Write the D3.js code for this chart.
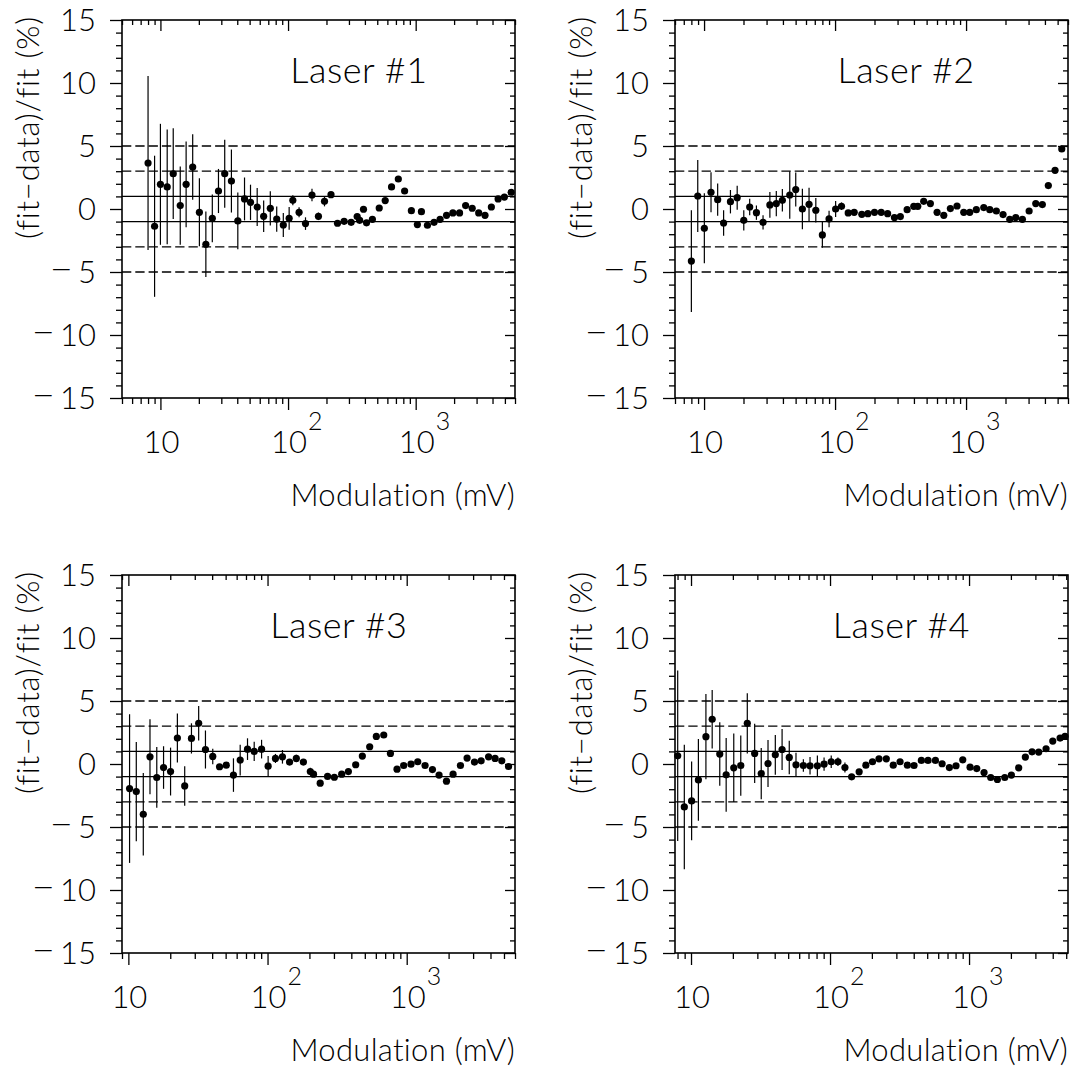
<!DOCTYPE html>
<html><head><meta charset="utf-8">
<script src="https://cdn.jsdelivr.net/npm/d3@7"></script>
<style>
body{margin:0;background:#fff}
text{font-family:Lato,"Open Sans","DejaVu Sans",sans-serif;font-weight:300;fill:#000}
</style></head>
<body><svg id="c" width="1074" height="1069"></svg>
<script>
// ---- data (mV, residual %, error %) ----
const p1X = [8.0, 9.0, 10.0, 11.3, 12.6, 14.3, 15.9, 17.9, 20.2, 22.7, 25.5, 28.5, 31.9, 36.0, 40.4, 45.6, 50.8, 57.3, 64.4, 72.6, 81.5, 91.8, 102, 109, 122, 137, 154,
  173, 193, 217, 244, 275, 312, 348, 364, 390, 412, 458, 518, 577, 647, 731, 819, 925, 1031, 1109, 1236, 1393, 1553, 1745, 1956, 2207, 2462, 2773, 3117, 3493, 3917, 4425, 4955, 5600];
const p1Y = [3.65, -1.37, 1.96, 1.75, 2.8, 0.27, 1.96, 3.33, -0.26, -2.8, -0.74, 1.43, 2.8, 2.22, -0.95, 0.8, 0.53, 0.16, -0.58, 0.05, -0.8, -1.27, -0.74, 0.69, -0.26, -1.16, 1.11,
  -0.58, 0.61, 1.14, -1.13, -0.98, -1.06, -0.6, -0.9, -0.02, -1.1, -0.82, 0.08, 0.67, 1.75, 2.38, 1.43, -0.13, -1.24, -0.21, -1.29, -1.06, -0.82, -0.5, -0.31, -0.31, 0.27, 0.06, -0.31, -0.5, 0.16, 0.8, 0.95, 1.33];
const p1E = [6.9, 5.6, 4.8, 4.55, 3.6, 3.1, 3.4, 2.6, 2.7, 2.6, 1.9, 1.75, 2.7, 2.5, 2.25, 1.7, 1.4, 1.5, 1.25, 1.35, 1.0, 0.95, 0.9, 0.4, 0.4, 0.5, 0.5,
  0.3, 0.4, 0.2, 0.15, 0.25, 0.15, 0.15, 0.15, 0.15, 0.15, 0.15, 0.15, 0.15, 0.15, 0.15, 0.15, 0.15, 0.15, 0.15, 0.15, 0.15, 0.15, 0.15, 0.15, 0.15, 0.15, 0.15, 0.15, 0.15, 0.15, 0.15, 0.15, 0.15];

const p2X = [8.0, 8.95, 10.05, 11.3, 12.7, 14.1, 15.9, 17.9, 20.1, 22.3, 25.1, 28.2, 31.8, 35.6, 39.6, 45.1, 50.1, 56.3, 63.3, 71.3, 80.0, 90.0, 101, 112,
  126, 140, 160, 178, 200, 225, 252, 284, 315, 355, 399, 428, 475, 534, 601, 676, 759, 853, 960, 1067, 1198, 1365, 1517, 1703, 1916, 2156, 2395, 2692, 3029, 3404, 3822, 4246, 4779, 5378];
const p2Y = [-4.13, 1.03, -1.53, 1.33, 0.74, -1.11, 0.58, 0.9, -0.9, 0.16, -0.29, -1.06, 0.32, 0.43, 0.69, 1.11, 1.54, 0.0, 0.37, -0.1, -2.06, -0.79, 0.0, 0.22,
  -0.31, -0.26, -0.42, -0.37, -0.26, -0.26, -0.37, -0.68, -0.6, -0.05, 0.21, 0.21, 0.61, 0.43, -0.26, -0.5, 0.03, 0.24, -0.26, -0.26, -0.05, 0.11, -0.05, -0.16, -0.44, -0.82, -0.68, -0.82, -0.16, 0.43, 0.35, 1.86, 3.07, 4.76];
const p2E = [4.04, 2.85, 2.78, 1.59, 1.28, 1.02, 0.93, 0.95, 0.8, 0.66, 0.57, 0.57, 1.02, 1.0, 0.89, 1.88, 1.35, 1.61, 1.32, 0.97, 1.02, 0.66, 0.63, 0.3,
  0.15, 0.15, 0.15, 0.15, 0.15, 0.15, 0.15, 0.15, 0.15, 0.15, 0.15, 0.15, 0.15, 0.15, 0.15, 0.15, 0.15, 0.15, 0.15, 0.15, 0.15, 0.15, 0.15, 0.15, 0.15, 0.15, 0.15, 0.15, 0.15, 0.15, 0.15, 0.15, 0.15, 0.15];

const p3X = [10.2, 11.4, 12.8, 14.3, 16.0, 17.9, 20.1, 22.5, 25.4, 28.4, 32.0, 35.8, 40.4, 45.2, 50.5, 56.9, 63.6, 71.8, 80.2, 90.6, 101, 114, 128, 144, 161,
  181, 203, 214, 239, 270, 302, 341, 381, 430, 480, 542, 605, 684, 764, 852, 951, 1074, 1200, 1355, 1531, 1708, 1931, 2154, 2433, 2716, 3069, 3427, 3875, 4316, 4822, 5393];
const p3Y = [-1.95, -2.19, -3.99, 0.57, -1.07, -0.28, -0.6, 2.06, -1.74, 2.03, 3.23, 1.15, 0.6, -0.22, -0.09, -0.88, 0.31, 1.18, 1.0, 1.18, -0.17, 0.44, 0.57, 0.15, 0.44,
  0.15, -0.6, -0.81, -1.52, -0.99, -1.05, -0.81, -0.6, -0.06, 0.63, 1.37, 2.19, 2.3, 0.84, -0.41, -0.12, -0.01, 0.18, -0.12, -0.44, -0.88, -1.36, -0.81, -0.12, 0.47, 0.15, 0.25, 0.57, 0.44, 0.25, -0.2];
const p3E = [5.9, 3.94, 3.28, 2.98, 2.41, 1.69, 1.9, 1.95, 1.57, 1.2, 1.37, 1.51, 0.62, 0.2, 0.2, 1.33, 1.22, 0.86, 0.77, 0.74, 0.81, 0.36, 0.54, 0.2, 0.3,
  0.2, 0.3, 0.2, 0.15, 0.15, 0.15, 0.15, 0.15, 0.15, 0.15, 0.15, 0.15, 0.15, 0.15, 0.15, 0.15, 0.15, 0.15, 0.15, 0.15, 0.15, 0.15, 0.15, 0.15, 0.15, 0.15, 0.15, 0.15, 0.15, 0.15, 0.15];

const p4X = [8.02, 8.95, 10.1, 11.3, 12.8, 14.2, 16.1, 17.9, 20.3, 22.8, 25.4, 28.7, 32.0, 35.8, 40.4, 45.2, 50.9, 56.9, 64.3, 71.8, 81.1, 90.6, 102, 114, 128,
  143, 162, 181, 202, 225, 254, 285, 319, 360, 402, 454, 507, 573, 640, 722, 806, 901, 1017, 1136, 1282, 1432, 1599, 1807, 2016, 2276, 2541, 2839, 3171, 3581, 4002, 4518, 4900];
const p4Y = [0.65, -3.41, -2.93, -1.26, 2.17, 3.55, 0.79, -0.86, -0.3, -0.12, 3.23, 0.84, -0.76, 0.04, 0.73, 1.15, 0.52, -0.06, -0.12, -0.14, -0.14, -0.01, 0.18, 0.18, -0.28,
  -1.02, -0.62, -0.09, 0.18, 0.41, 0.41, -0.09, 0.18, -0.09, -0.12, 0.28, 0.28, 0.28, 0.02, -0.28, -0.14, 0.33, -0.25, -0.36, -0.68, -1.07, -1.23, -1.07, -0.88, -0.3, 0.55, 0.97, 0.95, 1.21, 1.82, 2.06, 2.2];
const p4E = [6.77, 4.94, 3.12, 3.25, 3.38, 2.32, 2.52, 2.92, 2.72, 2.39, 2.39, 2.35, 2.03, 1.86, 1.58, 1.63, 1.33, 0.96, 0.5, 0.69, 0.82, 0.53, 0.5, 0.33, 0.4,
  0.2, 0.2, 0.15, 0.15, 0.15, 0.15, 0.15, 0.15, 0.15, 0.15, 0.15, 0.15, 0.15, 0.15, 0.15, 0.15, 0.15, 0.15, 0.15, 0.15, 0.15, 0.15, 0.15, 0.15, 0.15, 0.15, 0.15, 0.15, 0.15, 0.15, 0.15, 0.15];

const titles = ["Laser #1", "Laser #2", "Laser #3", "Laser #4"];
const xDomains = [[5, 6000], [6, 6000], [9, 6000], [7.67, 5150]];
const yTicks = [-15, -10, -5, 0, 5, 10, 15];
const decadeLabels = [{v: 10, exp: ""}, {v: 100, exp: "2"}, {v: 1000, exp: "3"}];
const solidLines = [1, -1];
const dashedLines = [3, 5, -3, -5];
const xTitle = "Modulation (mV)";
const yTitle = "(fit\u2212data)/fit (%)";
const titleAt = [110, 10];

// ---- layout ----
const W = 393, H = 378;
const origins = [[122, 20], [675, 20], [122, 575], [675, 575]];
const series = [[p1X, p1Y, p1E], [p2X, p2Y, p2E], [p3X, p3Y, p3E], [p4X, p4Y, p4E]];

const svg = d3.select("#c");

series.forEach((s, i) => {
  const [ox, oy] = origins[i];
  const g = svg.append("g").attr("transform", `translate(${ox},${oy})`);
  const x = d3.scaleLog().domain(xDomains[i]).range([0, W]);
  const y = d3.scaleLinear().domain([-15, 15]).range([H, 0]);

  const majors = [], minors = [];
  [1, 10, 100, 1000].forEach(d => {
    for (let k = 1; k <= 9; k++) {
      const v = k * d;
      if (v < xDomains[i][0] * 0.999 || v > xDomains[i][1] * 1.001) continue;
      (k === 1 ? majors : minors).push(v);
    }
  });
  const yMaj = d3.range(-15, 16, 5);
  const yMin = d3.range(-15, 16, 1).filter(v => v % 5 !== 0);

  const axStyle = sel => {
    sel.select(".domain").remove();
    sel.selectAll("line").attr("stroke", "#000").attr("stroke-width", 1.3);
    sel.selectAll("text").remove();
  };
  g.append("g").attr("transform", `translate(0,${H})`).call(d3.axisBottom(x).tickValues(majors).tickSize(12)).call(axStyle);
  g.append("g").attr("transform", `translate(0,${H})`).call(d3.axisBottom(x).tickValues(minors).tickSize(6)).call(axStyle);
  g.append("g").call(d3.axisTop(x).tickValues(majors).tickSize(-11)).call(axStyle);
  g.append("g").call(d3.axisTop(x).tickValues(minors).tickSize(-5)).call(axStyle);
  g.append("g").call(d3.axisLeft(y).tickValues(yMaj).tickSize(12)).call(axStyle);
  g.append("g").call(d3.axisLeft(y).tickValues(yMin).tickSize(6)).call(axStyle);
  g.append("g").attr("transform", `translate(${W},0)`).call(d3.axisRight(y).tickValues(yMaj).tickSize(-10)).call(axStyle);
  g.append("g").attr("transform", `translate(${W},0)`).call(d3.axisRight(y).tickValues(yMin).tickSize(-5)).call(axStyle);

  // reference lines
  g.selectAll("line.sol").data(solidLines).enter().append("line")
    .attr("x1", 0).attr("x2", W).attr("y1", d => y(d)).attr("y2", d => y(d))
    .attr("stroke", "#000").attr("stroke-width", 1.2);
  g.selectAll("line.dsh").data(dashedLines).enter().append("line")
    .attr("x1", 0).attr("x2", W).attr("y1", d => y(d)).attr("y2", d => y(d))
    .attr("stroke", "#000").attr("stroke-width", 1.3).attr("stroke-dasharray", "9.3,4");

  // box
  g.append("rect").attr("x", 0).attr("y", 0).attr("width", W).attr("height", H)
    .attr("fill", "none").attr("stroke", "#000").attr("stroke-width", 1.6);

  // data
  const pts = s[0].map((v, k) => ({x: v, y: s[1][k], e: s[2][k]}));
  g.selectAll("line.err").data(pts).enter().append("line")
    .attr("x1", d => x(d.x)).attr("x2", d => x(d.x))
    .attr("y1", d => y(d.y - d.e)).attr("y2", d => y(d.y + d.e))
    .attr("stroke", "#000").attr("stroke-width", 1.2);
  g.selectAll("circle").data(pts).enter().append("circle")
    .attr("cx", d => x(d.x)).attr("cy", d => y(d.y)).attr("r", 3.6).attr("fill", "#000");

  // y tick labels
  const yl = g.selectAll("text.yl").data(yTicks).enter().append("text")
    .attr("x", -26).attr("y", d => y(d)).attr("dy", "0.36em")
    .attr("text-anchor", "end").attr("font-size", 31);
  yl.filter(d => d < 0).append("tspan").attr("font-size", 40).text("\u2212");
  yl.append("tspan").attr("dx", d => d < 0 ? 5 : 0).text(d => String(Math.abs(d)));

  // x tick labels
  decadeLabels.forEach(dl => {
    g.append("text").attr("x", x(dl.v) + 1).attr("y", H + 55)
      .attr("text-anchor", "middle").attr("font-size", 31).text("10");
    if (dl.exp) {
      g.append("text").attr("x", x(dl.v) + 20).attr("y", H + 32)
        .attr("text-anchor", "start").attr("font-size", 25).text(dl.exp);
    }
  });

  // title
  g.append("text").attr("x", x(titleAt[0]) - 3).attr("y", y(titleAt[1]))
    .attr("font-size", 36).attr("letter-spacing", 0.5).text(titles[i]);

  // axis titles
  g.append("text").attr("x", W).attr("y", H + 108).attr("text-anchor", "end")
    .attr("font-size", 31).attr("letter-spacing", 0.3).text(xTitle);
  g.append("text").attr("transform", `translate(-83,-4) rotate(-90)`)
    .attr("text-anchor", "end").attr("font-size", 31).attr("letter-spacing", 0.8).text(yTitle);
});
</script></body></html>
